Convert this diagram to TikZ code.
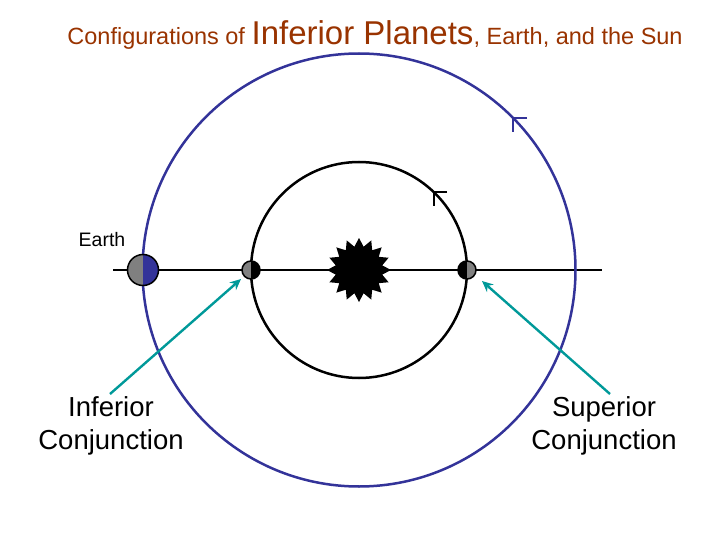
\documentclass[tikz,border=0pt]{standalone}
\usepackage{fontspec}
\setmainfont{Liberation Sans}
\usetikzlibrary{shapes.geometric,arrows.meta}
\definecolor{orb}{RGB}{51,51,153}
\definecolor{tit}{RGB}{153,51,0}
\definecolor{teal2}{RGB}{0,153,153}
\definecolor{gr}{RGB}{128,128,128}
\tikzset{lbl/.style={font=\fontsize{27.5}{33}\selectfont, align=center},
 arr/.style={teal2,line width=2.4pt,-{Stealth[length=11pt,width=10pt]}},
 chev/.style={line width=2.5pt}}
\begin{document}
\begin{tikzpicture}[x=1pt,y=-1pt]
\useasboundingbox (0,0) rectangle (720,540);
\node[text=tit,anchor=base] (title) at (375,45) {\fontsize{23.5}{26}\selectfont Configurations of \fontsize{33}{36}\selectfont Inferior Planets\fontsize{23.5}{26}\selectfont, Earth, and the Sun};
\coordinate (L) at (113,270); \coordinate (R) at (602,270);
\draw[line width=1.5pt] (L) -- (R);
\draw[orb,line width=2.5pt] (359,270) circle[radius=216.5];
\draw[line width=2.5pt] (359,270) circle[radius=108];
\node[star,star points=16,star point ratio=1.35,fill=black,minimum size=64pt,inner sep=0] (sun) at (359,270) {};
% chevrons
\draw[orb,chev] (527,118) -- (513,118) -- (513,132);
\draw[chev] (447,192) -- (434,192) -- (434,206);
% Earth
\fill[gr] (143,254.5) arc[start angle=-90,end angle=-270,radius=15.5] -- cycle;
\fill[orb] (143,254.5) arc[start angle=-90,end angle=90,radius=15.5] -- cycle;
\draw[line width=1.5pt] (143,270) circle[radius=15.5];
% planets
\fill[gr] (251,261) arc[start angle=-90,end angle=-270,radius=9] -- cycle;
\fill[black] (251,261) arc[start angle=-90,end angle=90,radius=9] -- cycle;
\draw[line width=1.5pt] (251,270) circle[radius=9];
\fill[black] (467,261) arc[start angle=-90,end angle=-270,radius=9] -- cycle;
\fill[gr] (467,261) arc[start angle=-90,end angle=90,radius=9] -- cycle;
\draw[line width=1.5pt] (467,270) circle[radius=9];
\coordinate (pi) at (241,279); \coordinate (ps) at (482,281);
\node[font=\fontsize{19.5}{22}\selectfont] (elbl) at (102,240) {Earth};
\node[lbl] (inf) at (111,426) {Inferior\\Conjunction};
\node[lbl] (sup) at (604,426) {Superior\\Conjunction};
\draw[arr] (110,394) -- (pi);
\draw[arr] (610,394) -- (ps);
\end{tikzpicture}
\end{document}
